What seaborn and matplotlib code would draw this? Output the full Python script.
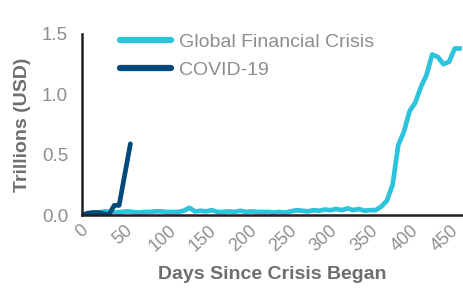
import matplotlib
matplotlib.use("Agg")
import matplotlib.pyplot as plt
import seaborn as sns
import pandas as pd

# ---- data ----
gfc_days = list(range(0, 470, 7))
gfc_values = [
    0.00, 0.01, 0.02, 0.02, 0.03, 0.025, 0.02, 0.025, 0.03, 0.025,
    0.02, 0.025, 0.025, 0.03, 0.03, 0.025, 0.025, 0.025, 0.035, 0.06,
    0.03, 0.035, 0.03, 0.04, 0.025, 0.025, 0.03, 0.025, 0.035, 0.025,
    0.03, 0.025, 0.025, 0.025, 0.02, 0.025, 0.02, 0.03, 0.04, 0.035,
    0.03, 0.04, 0.035, 0.045, 0.04, 0.05, 0.04, 0.055, 0.04, 0.05,
    0.035, 0.04, 0.04, 0.07, 0.12, 0.25, 0.58, 0.69, 0.86, 0.93,
    1.06, 1.16, 1.33, 1.31, 1.25, 1.27, 1.38, 1.38,
]
covid_days = [0, 7, 14, 21, 28, 33, 40, 46, 60]
covid_values = [0.0, 0.015, 0.02, 0.02, 0.01, 0.0, 0.08, 0.08, 0.59]

series_names = ["Global Financial Crisis", "COVID-19"]
series_colors = ["#2CC3DC", "#00497A"]
x_ticks = [0, 50, 100, 150, 200, 250, 300, 350, 400, 450]
y_ticks = [0.0, 0.5, 1.0, 1.5]

df = pd.concat([
    pd.DataFrame({"day": gfc_days, "value": gfc_values, "series": series_names[0]}),
    pd.DataFrame({"day": covid_days, "value": covid_values, "series": series_names[1]}),
])

sns.set_theme(style="white")
plt.rcParams["font.family"] = ["Liberation Sans", "DejaVu Sans"]

TICK_FONT = dict(family=["Liberation Sans", "DejaVu Sans"], weight="normal")
TICK_COLOR = "#8e8e8e"

fig = plt.figure(figsize=(4.64, 2.90), dpi=100)
ax = fig.add_axes([82 / 464, 1 - 215 / 290, (462 - 82) / 464, (215 - 34) / 290])

sns.lineplot(data=df, x="day", y="value", hue="series", hue_order=series_names,
             palette=dict(zip(series_names, series_colors)), linewidth=3.4,
             ax=ax, legend=True, sort=False)

ax.set_xlim(0, 471)
ax.set_ylim(0, 1.5)
ax.set_xticks(x_ticks)
ax.set_xticklabels([str(t) for t in x_ticks], rotation=42, ha="center",
                   fontsize=13, color=TICK_COLOR, **TICK_FONT)
ax.set_yticks(y_ticks)
ax.set_yticklabels([f"{t:.1f}" for t in y_ticks], fontsize=13.5,
                   color=TICK_COLOR, **TICK_FONT)
ax.tick_params(axis="both", length=0)
ax.tick_params(axis="y", pad=10)
ax.tick_params(axis="x", pad=5)

for s in ["top", "right"]:
    ax.spines[s].set_visible(False)
for s in ["left", "bottom"]:
    ax.spines[s].set_color("#231f20")
    ax.spines[s].set_linewidth(1.8)

ax.set_xlabel("Days Since Crisis Began", fontsize=14, fontweight="bold",
              color="#6d6e71", labelpad=8)
ax.set_ylabel("Trillions (USD)", fontsize=14, fontweight="bold",
              color="#6d6e71", labelpad=8)

handles, labels = ax.get_legend_handles_labels()
leg = ax.legend(handles, labels, loc="upper left", frameon=False,
                bbox_to_anchor=(120 / 464, 1 - 33 / 290),
                bbox_transform=fig.transFigure,
                prop=dict(size=14, **TICK_FONT),
                handlelength=2.6, handletextpad=0.45, labelspacing=0.55,
                borderpad=0, borderaxespad=0)
for t in leg.get_texts():
    t.set_color(TICK_COLOR)
for h in leg.get_lines():
    h.set_linewidth(4.5)
    h.set_solid_capstyle("round")

fig.savefig("out.png", dpi=100)
